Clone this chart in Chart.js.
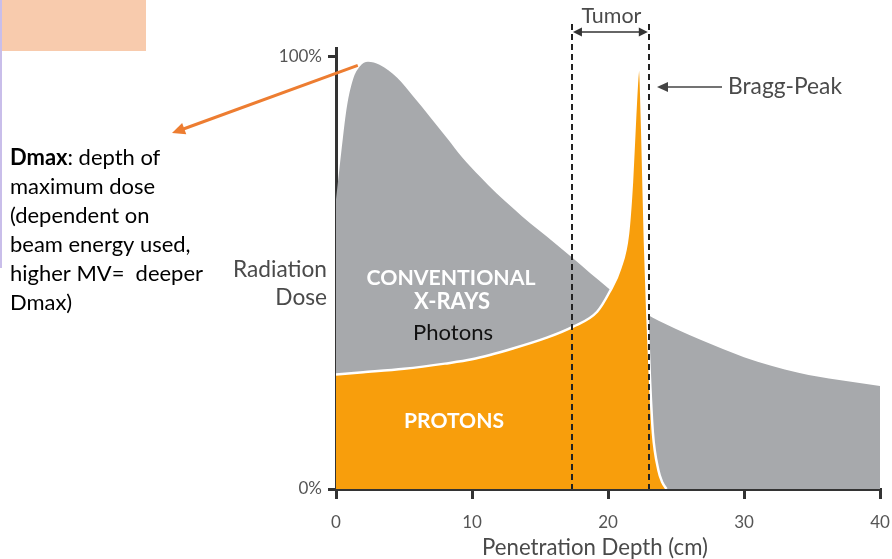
<!DOCTYPE html>
<html>
<head>
<meta charset="utf-8">
<script src="https://cdn.jsdelivr.net/npm/chart.js@4.4.1/dist/chart.umd.min.js"></script>
<style>
  html, body { margin: 0; padding: 0; background: #ffffff; }
  #wrap { position: relative; width: 892px; height: 559px; }
  canvas { display: block; }
</style>
</head>
<body>
<div id="wrap"><canvas id="c" width="892" height="559"></canvas></div>
<script>
// ---- Data ----
const xrayDepth = [0, 0.25, 0.5, 0.8, 1.25, 1.75, 2.35, 3.2, 4.5, 5.7, 6.9, 8.2, 9.3, 10.6, 11.8, 13.0, 14.3, 15.5, 17.4, 20.0, 21.5, 23.3, 25, 26.8, 30, 34, 37, 40];
const xrayDose  = [67, 74, 81, 88.4, 94.7, 97.7, 98.8, 98.1, 95.1, 90.7, 86.1, 81, 76.6, 72.2, 68.4, 65, 61.4, 58.4, 53.4, 46.5, 43, 39.6, 37, 34.5, 30.5, 26.9, 25.2, 23.8];

const protonDepth = [0, 2, 5, 8, 10, 13, 15.5, 17.4, 19.2, 20.1, 20.9, 21.47, 21.76, 21.99, 22.15, 22.3, 22.42, 22.55, 22.72, 22.9, 23.1, 23.3, 23.7, 24.0, 24.3];
const protonDose  = [26.5, 27, 27.8, 29, 30, 32.5, 35, 37.5, 41, 45.5, 51, 59, 71, 86, 95, 99, 94, 79, 57, 40, 24.5, 13, 4.4, 1.5, 0];

const xTicks = [0, 10, 20, 30, 40];
const yTicks = [0, 100];
const tumorRange = [17.35, 23.0];
const dmaxPoint = [1.6, 98];

const dmaxLines = ['Dmax', ': depth of', 'maximum dose', '(dependent on', 'beam energy used,', 'higher MV=  deeper', 'Dmax)'];

const ORANGE = '#F89E0C';
const GRAY = '#A7A9AC';
const AXIS = '#333333';

function fitFont(ctx, text, width, weight, family) {
  ctx.font = weight + ' 20px ' + family;
  const w = ctx.measureText(text).width;
  return 20 * width / w;
}
function drawFit(ctx, text, x, y, width, weight, family, color, align) {
  const size = fitFont(ctx, text, width, weight, family);
  ctx.font = weight + ' ' + size.toFixed(2) + 'px ' + family;
  ctx.fillStyle = color;
  ctx.textAlign = align || 'center';
  ctx.textBaseline = 'middle';
  ctx.fillText(text, x, y);
  return size;
}
function arrowHead(ctx, x1, y1, x2, y2, len, half, color) {
  const a = Math.atan2(y2 - y1, x2 - x1);
  ctx.beginPath();
  ctx.moveTo(x2, y2);
  ctx.lineTo(x2 - len * Math.cos(a) + half * Math.sin(a), y2 - len * Math.sin(a) - half * Math.cos(a));
  ctx.lineTo(x2 - len * Math.cos(a) - half * Math.sin(a), y2 - len * Math.sin(a) + half * Math.cos(a));
  ctx.closePath();
  ctx.fillStyle = color;
  ctx.fill();
}

const annotations = {
  id: 'annotations',
  afterDraw(chart) {
    const ctx = chart.ctx;
    const xs = chart.scales.x, ys = chart.scales.y;
    const bottom = ys.getPixelForValue(0);
    ctx.save();

    // peach box + left edge line
    ctx.fillStyle = '#F8CBAD';
    ctx.fillRect(0, 0, 146, 51);
    ctx.fillStyle = '#C9BEEA';
    ctx.fillRect(0, 0, 2, 268);

    // tumor dashed lines
    ctx.strokeStyle = '#222';
    ctx.lineWidth = 2;
    ctx.setLineDash([6, 4]);
    tumorRange.forEach(v => {
      const px = Math.round(xs.getPixelForValue(v));
      ctx.beginPath();
      ctx.moveTo(px, 24);
      ctx.lineTo(px, bottom);
      ctx.stroke();
    });
    ctx.setLineDash([]);

    // tumor double arrow
    const t1 = xs.getPixelForValue(tumorRange[0]), t2 = xs.getPixelForValue(tumorRange[1]);
    ctx.strokeStyle = '#333';
    ctx.lineWidth = 1.5;
    ctx.beginPath();
    ctx.moveTo(t1 + 6, 32); ctx.lineTo(t2 - 6, 32); ctx.stroke();
    arrowHead(ctx, t2, 32, t1 + 1, 32, 9, 4.5, '#333');
    arrowHead(ctx, t1, 32, t2 - 1, 32, 9, 4.5, '#333');
    drawFit(ctx, 'Tumor', (t1 + t2) / 2 + 1, 16, 60, '400', 'Lato', '#4a4a4a');

    // Bragg-peak arrow
    const by = 87;
    ctx.strokeStyle = '#444';
    ctx.lineWidth = 1.5;
    ctx.beginPath();
    ctx.moveTo(722, by); ctx.lineTo(664, by); ctx.stroke();
    arrowHead(ctx, 700, by, 657, by, 11, 5, '#444');
    drawFit(ctx, 'Bragg-Peak', 728, by, 114, '400', 'Lato', '#4a4a4a', 'left');

    // Dmax orange arrow
    const sx = xs.getPixelForValue(dmaxPoint[0]), sy = ys.getPixelForValue(dmaxPoint[1]);
    ctx.strokeStyle = '#ED7D31';
    ctx.lineWidth = 3;
    ctx.beginPath();
    ctx.moveTo(sx, sy); ctx.lineTo(182, 129.5); ctx.stroke();
    arrowHead(ctx, sx, sy, 172, 133, 13, 6, '#ED7D31');

    // in-plot labels
    drawFit(ctx, 'CONVENTIONAL', 451, 278, 169, '700', 'Lato', '#ffffff');
    drawFit(ctx, 'X-RAYS', 452, 302, 76, '700', 'Lato', '#ffffff');
    drawFit(ctx, 'Photons', 453, 333, 80, '400', 'Lato', '#111111');
    drawFit(ctx, 'PROTONS', 454, 421, 100, '700', 'Lato', '#ffffff');

    // y axis title
    const rs = drawFit(ctx, 'Radiation', 327, 270, 94, '400', 'Lato', '#4a4a4a', 'right');
    ctx.font = '400 ' + rs.toFixed(2) + 'px Lato';
    ctx.textAlign = 'right';
    ctx.fillText('Dose', 327, 298);

    // x axis title
    drawFit(ctx, 'Penetration Depth (cm)', 595, 548, 226, '400', 'Lato', '#4a4a4a');

    // Dmax explanatory text
    const fs = fitFont(ctx, dmaxLines[5], 193, '400', 'Lato');
    ctx.textAlign = 'left';
    ctx.textBaseline = 'middle';
    ctx.fillStyle = '#000';
    ctx.font = '700 ' + fs.toFixed(2) + 'px Lato';
    ctx.fillText(dmaxLines[0], 10, 158);
    const bw = ctx.measureText(dmaxLines[0]).width;
    ctx.font = '400 ' + fs.toFixed(2) + 'px Lato';
    ctx.fillText(dmaxLines[1], 10 + bw, 158);
    for (let i = 2; i < dmaxLines.length; i++) {
      ctx.fillText(dmaxLines[i], 10, 158 + (i - 1) * 29);
    }
    ctx.restore();
  }
};

new Chart(document.getElementById('c'), {
  type: 'line',
  data: {
    datasets: [
      {
        label: 'Protons',
        data: protonDepth.map((d, i) => ({ x: d, y: protonDose[i] })),
        backgroundColor: ORANGE,
        borderColor: '#ffffff',
        borderWidth: 2.5,
        fill: 'origin',
        pointRadius: 0,
        cubicInterpolationMode: 'monotone',
        order: 0
      },
      {
        label: 'Conventional X-rays (Photons)',
        data: xrayDepth.map((d, i) => ({ x: d, y: xrayDose[i] })),
        backgroundColor: GRAY,
        borderColor: 'rgba(0,0,0,0)',
        borderWidth: 0,
        fill: 'origin',
        pointRadius: 0,
        cubicInterpolationMode: 'monotone',
        order: 1
      }
    ]
  },
  options: {
    responsive: false,
    animation: false,
    devicePixelRatio: 1,
    layout: { padding: { top: 48, right: 12, left: 0, bottom: 0 } },
    plugins: { legend: { display: false }, tooltip: { enabled: false } },
    scales: {
      x: {
        type: 'linear', min: 0, max: 40, z: 1,
        afterBuildTicks: s => { s.ticks = xTicks.map(v => ({ value: v })); },
        ticks: { color: '#555', font: { family: 'Lato', size: 17 }, padding: 13, maxRotation: 0 },
        grid: { drawOnChartArea: false, drawTicks: true, tickLength: 10, color: AXIS, lineWidth: 3 },
        border: { display: true, color: AXIS, width: 3 },
        afterFit: s => { s.height = 70; s.paddingRight = 0; s.paddingLeft = 0; }
      },
      y: {
        type: 'linear', min: 0, max: 102, z: 1,
        afterBuildTicks: s => { s.ticks = yTicks.map(v => ({ value: v })); },
        ticks: { color: '#555', font: { family: 'Lato', size: 17 }, padding: 6, callback: v => v + '%' },
        grid: { drawOnChartArea: false, drawTicks: true, tickLength: 8, color: AXIS, lineWidth: 3 },
        border: { display: true, color: AXIS, width: 3 },
        afterFit: s => { s.width = 336; s.paddingTop = 0; s.paddingBottom = 0; }
      }
    }
  },
  plugins: [annotations]
});
</script>
</body>
</html>
